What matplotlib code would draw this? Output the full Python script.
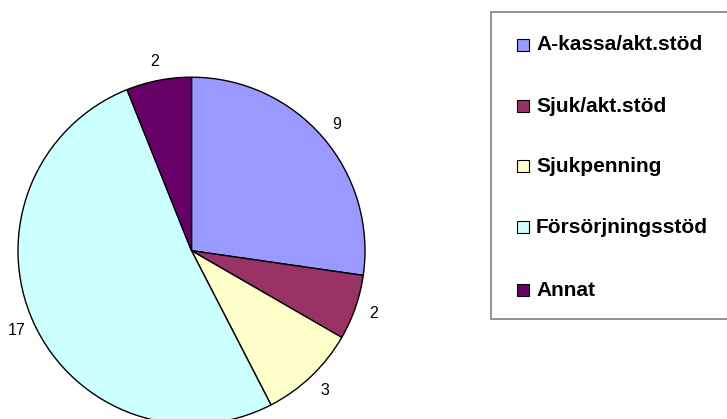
import matplotlib
matplotlib.use("Agg")
import matplotlib.pyplot as plt
from matplotlib.patches import Rectangle

# data
labels = ["A-kassa/akt.stöd", "Sjuk/akt.stöd", "Sjukpenning", "Försörjningsstöd", "Annat"]
values = [9, 2, 3, 17, 2]
colors = ["#9999FF", "#993366", "#FFFFCC", "#CCFFFF", "#660066"]

plt.rcParams['font.family'] = ['Liberation Sans', 'DejaVu Sans']

W, H = 727, 419
fig = plt.figure(figsize=(W / 100, H / 100), dpi=100)

# pie axes (center ~ (191.5, 250.7) px, radius ~173.5 px)
cx, cy, r = 191.5, 250.7, 173.5
ax = fig.add_axes([(cx - r) / W, 1 - (cy + r) / H, 2 * r / W, 2 * r / H])
ax.pie(values, colors=colors, startangle=90, counterclock=False,
       labels=[str(v) for v in values], labeldistance=1.11,
       wedgeprops=dict(edgecolor="black", linewidth=1.0),
       textprops=dict(fontsize=11.5, color="black"))
for t in ax.texts:
    t.set_horizontalalignment("center")
    t.set_verticalalignment("center")
ax.set_xlim(-1, 1)
ax.set_ylim(-1, 1)
ax.axis("off")

# legend box
fig.patches.append(Rectangle((491 / W, 1 - 319 / H), 260 / W, 307 / H,
                             transform=fig.transFigure, facecolor="white",
                             edgecolor="#808080", linewidth=1.2, zorder=0))
row_y = [45, 106, 166, 227, 290]
for lab, col, y in zip(labels, colors, row_y):
    fig.patches.append(Rectangle((517 / W, 1 - (y + 6) / H), 12 / W, 12 / H,
                                 transform=fig.transFigure, facecolor=col,
                                 edgecolor="black", linewidth=0.8, zorder=2))
    fig.text(536 / W, 1 - y / H, lab, fontsize=15, fontweight="bold",
             va="center", ha="left")

fig.savefig("out.png", dpi=100)
